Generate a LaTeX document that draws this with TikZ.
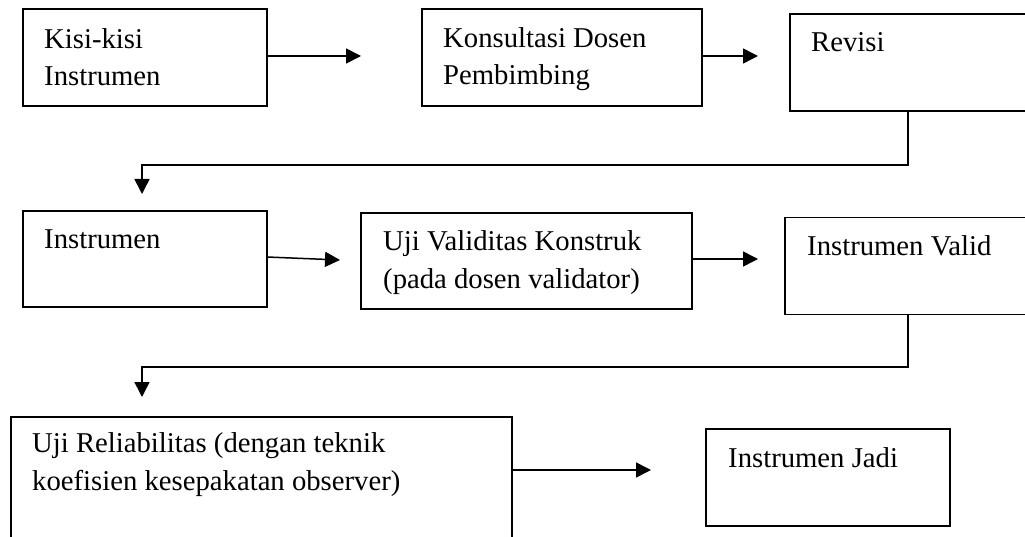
\documentclass[tikz,border=0pt]{standalone}
\usepackage{fontspec}
\setmainfont{Liberation Serif}
\usetikzlibrary{arrows.meta,calc}
\begin{document}
\begin{tikzpicture}[x=1pt,y=-1pt,
  box/.style={draw, line width=1.2pt, inner sep=0pt, outer sep=0pt},
  txt/.style={anchor=base west, align=left, inner sep=0pt, font=\fontsize{28.7pt}{37.5pt}\selectfont},
  arr/.style={line width=1.5pt, -{Triangle[length=15pt,width=15pt]}}]
\useasboundingbox (0,0) rectangle (1025,537);
\clip (0,0) rectangle (1025,537);
\fill[white] (0,0) rectangle (1025,537);
% row 1
\node[box, minimum width=244pt, minimum height=97pt] (kisi) at (145,57.5) {};
\node[box, minimum width=280pt, minimum height=97pt] (kons) at (562,57.5) {};
\node[box, minimum width=260pt, minimum height=97pt] (rev) at (920,62.5) {};
% row 2
\node[box, minimum width=244pt, minimum height=96pt] (instr) at (145,259) {};
\node[box, minimum width=331pt, minimum height=96pt] (uji) at (526.5,261) {};
\node[box, minimum width=260pt, minimum height=97pt] (valid) at (915,266) {};
% row 3
\node[box, minimum width=501pt, minimum height=140pt] (rel) at (261.5,487) {};
\node[box, minimum width=244pt, minimum height=97pt] (jadi) at (828,477.5) {};
% texts (base anchor = baseline of the last line)
\node[txt] (kisiT) at ([xshift=21pt,yshift=-77pt]kisi.north west) {Kisi-kisi\\Instrumen};
\node[txt] (konsT) at ([xshift=21pt,yshift=-76pt]kons.north west) {Konsultasi Dosen\\Pembimbing};
\node[txt] (revT) at ([xshift=21pt,yshift=-38pt]rev.north west) {Revisi};
\node[txt] (instrT) at ([xshift=21pt,yshift=-37.5pt]instr.north west) {Instrumen};
\node[txt] (ujiT) at ([xshift=22pt,yshift=-75.5pt]uji.north west) {Uji Validitas Konstruk\\(pada dosen validator)};
\node[txt] (validT) at ([xshift=22pt,yshift=-38pt]valid.north west) {Instrumen Valid};
\node[txt] (relT) at ([xshift=21pt,yshift=-73pt]rel.north west) {Uji Reliabilitas (dengan teknik\\koefisien kesepakatan observer)};
\node[txt] (jadiT) at ([xshift=22pt,yshift=-38pt]jadi.north west) {Instrumen Jadi};
% connectors
\coordinate (a1) at (361,56);
\coordinate (a2) at (758,56);
\coordinate (b1) at (340,260);
\coordinate (b2) at (758,259);
\coordinate (c1) at (142,165);
\coordinate (c1t) at (142,194);
\coordinate (c2) at (142,367);
\coordinate (c2t) at (142,397);
\coordinate (d1) at (651,470);
\draw[arr] (kisi.east |- a1) -- (a1);
\draw[arr] (kons.east |- a2) -- (a2);
\draw[arr] ([yshift=2pt]instr.east) -- (b1);
\draw[arr] (uji.east |- b2) -- (b2);
\draw[arr] ([xshift=118pt]rev.south west) |- (c1) -- (c1t);
\draw[arr] ([xshift=123pt]valid.south west) |- (c2) -- (c2t);
\draw[arr] (rel.east |- d1) -- (d1);
\end{tikzpicture}
\end{document}
